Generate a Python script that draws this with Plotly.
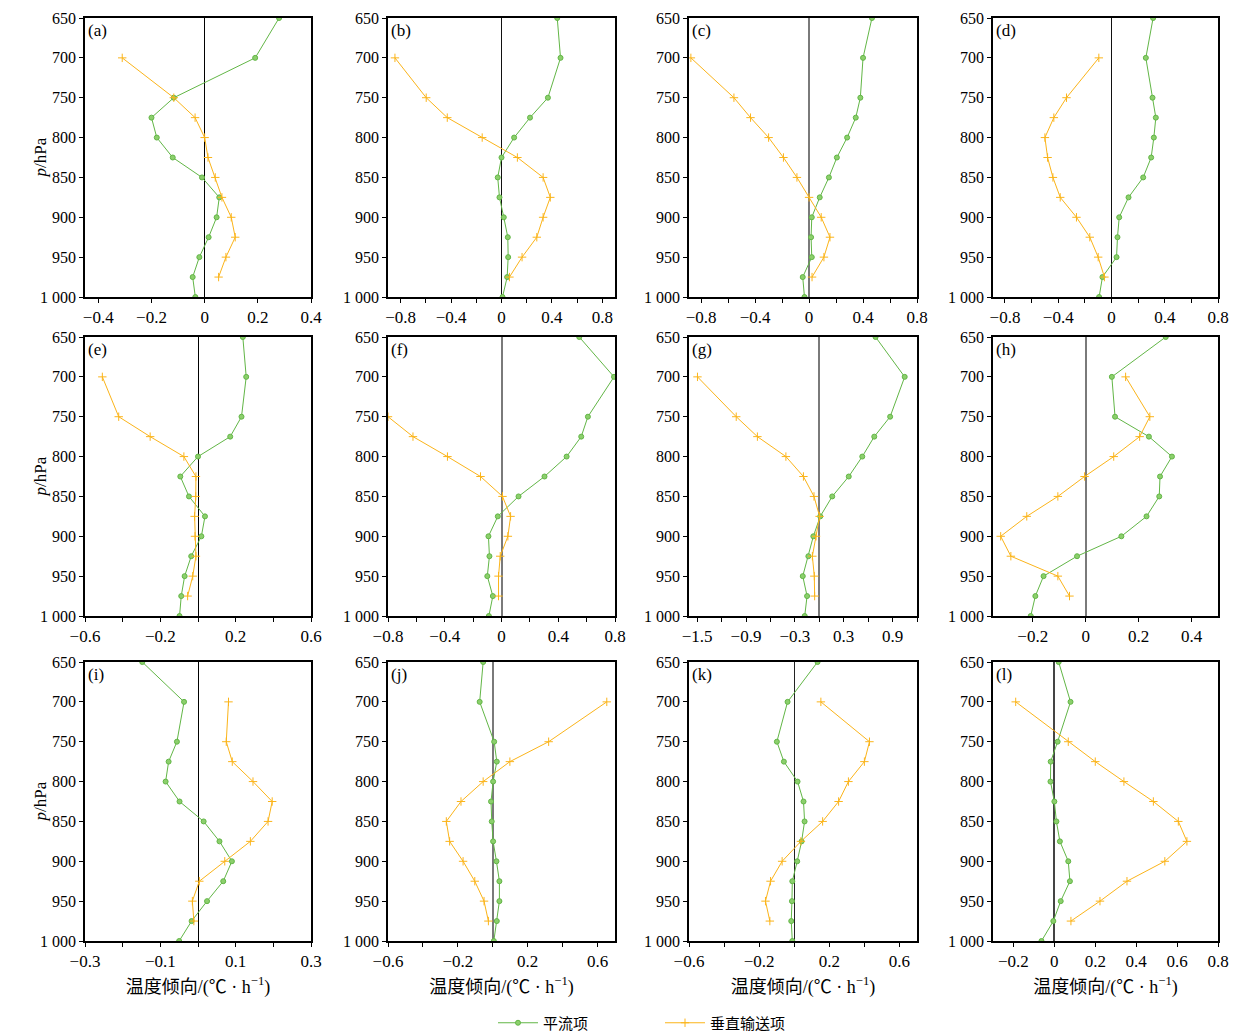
import plotly.graph_objects as go

# Pressure levels (hPa)
lev_adv = [650, 700, 750, 775, 800, 825, 850, 875, 900, 925, 950, 975, 1000]
lev_vert = [700, 750, 775, 800, 825, 850, 875, 900, 925, 950, 975]
lev_vert_f = [750, 775, 800, 825, 850, 875, 900, 925, 950, 975]

# 平流项 (advection) and 垂直输送项 (vertical transport), per panel
adv_a = [0.28, 0.19, -0.116, -0.20, -0.18, -0.12, -0.01, 0.055, 0.045, 0.015, -0.02, -0.045, -0.035]
vert_a = [-0.31, -0.116, -0.036, 0.0, 0.0125, 0.04, 0.065, 0.10, 0.115, 0.08, 0.0525]

adv_b = [0.442, 0.468, 0.368, 0.226, 0.10, 0.0, -0.03, -0.016, 0.018, 0.05, 0.053, 0.045, 0.008]
vert_b = [-0.845, -0.597, -0.43, -0.153, 0.126, 0.33, 0.387, 0.33, 0.28, 0.163, 0.063]

adv_c = [0.466, 0.40, 0.38, 0.346, 0.282, 0.206, 0.147, 0.079, 0.02, 0.015, 0.02, -0.047, -0.034]
vert_c = [-0.876, -0.557, -0.434, -0.30, -0.19, -0.09, 0.0, 0.09, 0.155, 0.11, 0.022]

adv_d = [0.3125, 0.258, 0.308, 0.333, 0.318, 0.298, 0.238, 0.128, 0.058, 0.045, 0.038, -0.068, -0.093]
vert_d = [-0.095, -0.338, -0.433, -0.50, -0.48, -0.44, -0.385, -0.263, -0.163, -0.10, -0.053]

adv_e = [0.238, 0.256, 0.231, 0.171, 0.0, -0.094, -0.048, 0.037, 0.018, -0.036, -0.071, -0.089, -0.098]
vert_e = [-0.508, -0.421, -0.254, -0.075, -0.011, -0.012, -0.018, -0.016, -0.011, -0.028, -0.055]

adv_f = [0.548, 0.793, 0.609, 0.562, 0.459, 0.303, 0.12, -0.026, -0.092, -0.085, -0.10, -0.061, -0.089]
vert_f = [-0.80, -0.624, -0.381, -0.148, 0.007, 0.064, 0.045, -0.009, -0.021, -0.021]

adv_g = [0.691, 1.049, 0.87, 0.675, 0.528, 0.362, 0.159, 0.012, -0.073, -0.134, -0.203, -0.15, -0.179]
vert_g = [-1.496, -1.02, -0.76, -0.41, -0.195, -0.065, 0.004, -0.04, -0.085, -0.061, -0.057]

adv_h = [0.3025, 0.099, 0.111, 0.239, 0.326, 0.281, 0.278, 0.23, 0.135, -0.0325, -0.159, -0.19, -0.2075]
vert_h = [0.151, 0.2425, 0.204, 0.106, -0.004, -0.105, -0.2225, -0.321, -0.2825, -0.105, -0.061]

adv_i = [-0.148, -0.037, -0.056, -0.078, -0.086, -0.049, 0.015, 0.057, 0.09, 0.067, 0.024, -0.017, -0.05]
vert_i = [0.081, 0.075, 0.091, 0.146, 0.197, 0.186, 0.139, 0.071, 0.0035, -0.015, -0.011]

adv_j = [-0.055, -0.075, 0.008, 0.023, 0.002, -0.01, -0.006, 0.002, 0.021, 0.038, 0.038, 0.023, 0.006]
vert_j = [0.653, 0.32, 0.098, -0.055, -0.182, -0.266, -0.247, -0.17, -0.103, -0.05, -0.025]

adv_k = [0.133, -0.038, -0.099, -0.059, 0.019, 0.053, 0.059, 0.042, 0.017, -0.011, -0.013, -0.017, -0.011]
vert_k = [0.152, 0.429, 0.40, 0.309, 0.253, 0.162, 0.038, -0.069, -0.135, -0.164, -0.139]

adv_l = [0.021, 0.079, 0.016, -0.018, -0.019, 0.0, 0.01, 0.027, 0.068, 0.076, 0.031, -0.005, -0.063]
vert_l = [-0.189, 0.068, 0.20, 0.34, 0.484, 0.606, 0.648, 0.54, 0.355, 0.223, 0.081]

panel_labels = ["(a)", "(b)", "(c)", "(d)", "(e)", "(f)", "(g)", "(h)", "(i)", "(j)", "(k)", "(l)"]
y_ticks = [650, 700, 750, 800, 850, 900, 950, 1000]
y_ticktext = ["650", "700", "750", "800", "850", "900", "950", "1 000"]
series_names = ["平流项", "垂直输送项"]

advs = [adv_a, adv_b, adv_c, adv_d, adv_e, adv_f, adv_g, adv_h, adv_i, adv_j, adv_k, adv_l]
verts = [vert_a, vert_b, vert_c, vert_d, vert_e, vert_f, vert_g, vert_h, vert_i, vert_j, vert_k, vert_l]
vlevs = [lev_vert] * 5 + [lev_vert_f] + [lev_vert] * 6


def mk(vals, labelled):
    txt = []
    for v in vals:
        if any(abs(v - l) < 1e-9 for l in labelled):
            txt.append(("%g" % v).replace("-", "\u2212"))
        else:
            txt.append(" ")
    return vals, txt


x_ranges = [[-0.45, 0.4], [-0.9, 0.9], [-0.89, 0.8], [-0.89, 0.8],
            [-0.6, 0.6], [-0.8, 0.8], [-1.6, 1.2], [-0.35, 0.5],
            [-0.3, 0.3], [-0.6, 0.7], [-0.6, 0.7], [-0.3, 0.8]]
x_tickvals = [
    [-0.4, -0.2, 0, 0.2, 0.4],
    [-0.8, -0.6, -0.4, -0.2, 0, 0.2, 0.4, 0.6, 0.8],
    [-0.8, -0.6, -0.4, -0.2, 0, 0.2, 0.4, 0.6, 0.8],
    [-0.8, -0.6, -0.4, -0.2, 0, 0.2, 0.4, 0.6, 0.8],
    [-0.6, -0.4, -0.2, 0, 0.2, 0.4, 0.6],
    [-0.8, -0.6, -0.4, -0.2, 0, 0.2, 0.4, 0.6, 0.8],
    [-1.5, -1.2, -0.9, -0.6, -0.3, 0, 0.3, 0.6, 0.9, 1.2],
    [-0.2, 0, 0.2, 0.4],
    [-0.3, -0.2, -0.1, 0, 0.1, 0.2, 0.3],
    [-0.6, -0.4, -0.2, 0, 0.2, 0.4, 0.6],
    [-0.6, -0.4, -0.2, 0, 0.2, 0.4, 0.6],
    [-0.2, 0, 0.2, 0.4, 0.6, 0.8],
]
x_labelled = [
    [-0.4, -0.2, 0, 0.2, 0.4],
    [-0.8, -0.4, 0, 0.4, 0.8],
    [-0.8, -0.4, 0, 0.4, 0.8],
    [-0.8, -0.4, 0, 0.4, 0.8],
    [-0.6, -0.2, 0.2, 0.6],
    [-0.8, -0.4, 0, 0.4, 0.8],
    [-1.5, -0.9, -0.3, 0.3, 0.9],
    [-0.2, 0, 0.2, 0.4],
    [-0.3, -0.1, 0.1, 0.3],
    [-0.6, -0.2, 0.2, 0.6],
    [-0.6, -0.2, 0.2, 0.6],
    [-0.2, 0, 0.2, 0.4, 0.6, 0.8],
]
zl_color = ["#000000", "#111111", "#7a7a7a", "#111111",
            "#000000", "#7a7a7a", "#7a7a7a", "#7a7a7a",
            "#000000", "#7a7a7a", "#222222", "#444444"]
zl_width = [1, 1, 2, 1, 1, 2, 2, 2, 1, 2, 1, 1.5]

W, H = 1242, 1034
col_px = [(85, 311), (388, 615), (689, 917), (993, 1218)]
row_px = [(18, 297), (337, 616), (662, 941)]

GREEN = "#62b646"
GREEN_FILL = "#8ccf6c"
ORANGE = "#fbb41a"
SERIF = "Liberation Serif"
CJK = "Liberation Serif, Noto Sans CJK SC"

fig = go.Figure()
layout = dict(width=W, height=H, margin=dict(l=0, r=0, t=0, b=0, autoexpand=False),
              paper_bgcolor="white", plot_bgcolor="white",
              font=dict(family=SERIF, size=16, color="black"),
              showlegend=True)
annotations = []

for i in range(12):
    r, c = divmod(i, 4)
    n = "" if i == 0 else str(i + 1)
    xa, ya = "x" + n, "y" + n
    x0, x1 = col_px[c]
    y0, y1 = row_px[r]
    tv, tt = mk(x_tickvals[i], x_labelled[i])
    xax = dict(domain=[x0 / W, x1 / W], anchor=ya, range=x_ranges[i],
               tickvals=tv, ticktext=tt, ticks="outside", ticklen=4,
               tickcolor="black", showline=True, linecolor="black", linewidth=1.5,
               mirror=True, showgrid=False, zeroline=True, automargin=False,
               zerolinecolor=zl_color[i], zerolinewidth=zl_width[i],
               tickfont=dict(family=SERIF, size=17))
    if r == 2:
        xax["title"] = dict(text="温度倾向/(℃ · h<sup>−1</sup>)",
                            font=dict(family=CJK, size=18), standoff=10)
    yax = dict(domain=[1 - y1 / H, 1 - y0 / H], anchor=xa, range=[1000, 650],
               tickvals=y_ticks, ticktext=y_ticktext, ticks="outside", ticklen=4,
               tickcolor="black", showline=True, linecolor="black", linewidth=1.5,
               mirror=True, showgrid=False, zeroline=False, automargin=False,
               tickfont=dict(family=SERIF, size=16))
    layout["xaxis" + n] = xax
    layout["yaxis" + n] = yax

    if c == 0:
        annotations.append(dict(text="<i>p</i>/hPa", xref="paper", yref=ya + " domain",
                                x=40 / W, y=0.5, xanchor="center", yanchor="middle",
                                textangle=-90, showarrow=False,
                                font=dict(family=SERIF, size=17)))

    fig.add_trace(go.Scatter(
        x=advs[i], y=lev_adv, xaxis=xa, yaxis=ya, mode="lines+markers",
        name=series_names[0], legendgroup="adv", showlegend=(i == 0),
        line=dict(color=GREEN, width=1),
        marker=dict(symbol="circle", size=5, color=GREEN_FILL,
                    line=dict(color=GREEN, width=1))))
    fig.add_trace(go.Scatter(
        x=verts[i], y=vlevs[i], xaxis=xa, yaxis=ya, mode="lines+markers",
        name=series_names[1], legendgroup="vert", showlegend=(i == 0),
        line=dict(color=ORANGE, width=1),
        marker=dict(symbol="cross-thin", size=6, color=ORANGE,
                    line=dict(color=ORANGE, width=1))))

    annotations.append(dict(text=panel_labels[i], xref=xa + " domain", yref=ya + " domain",
                            x=0.005, y=0.955, xanchor="left", yanchor="middle",
                            showarrow=False, font=dict(family=SERIF, size=17)))

layout["annotations"] = annotations
layout["legend"] = dict(orientation="h", x=493 / W, xanchor="left", y=1 - 1023 / H,
                        yanchor="middle", font=dict(family=CJK, size=15),
                        itemwidth=40, entrywidth=112, entrywidthmode="pixels",
                        bgcolor="rgba(0,0,0,0)")
fig.update_layout(**layout)
fig.write_html("out.html", config={"displayModeBar": False},
               post_script="document.body.style.margin='0';document.body.style.padding='0';document.body.style.overflow='hidden';")
